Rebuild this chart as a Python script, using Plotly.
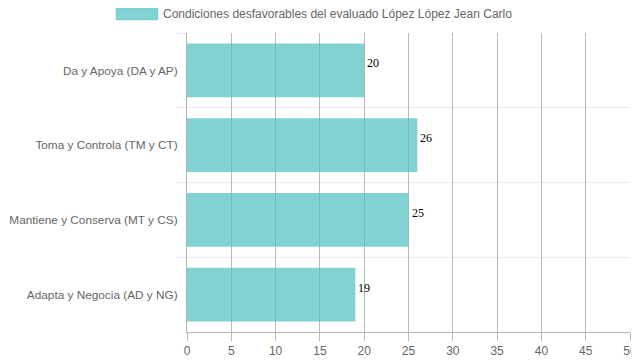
import plotly.graph_objects as go

categories = ["Da y Apoya (DA y AP)", "Toma y Controla (TM y CT)",
              "Mantiene y Conserva (MT y CS)", "Adapta y Negocia (AD y NG)"]
values = [20, 26, 25, 19]
series_name = "Condiciones desfavorables del evaluado López López Jean Carlo"
x_ticks = [0, 5, 10, 15, 20, 25, 30, 35, 40, 45, 50]

pos = list(range(len(categories)))
bounds = [p - 0.5 for p in pos]

fig = go.Figure()
fig.add_trace(go.Bar(
    x=values, y=pos, orientation="h", name=series_name,
    marker=dict(color="rgba(75,192,192,0.7)", line=dict(width=0)),
    width=0.72, showlegend=False, hoverinfo="x+y",
))

for v, p in zip(values, pos):
    fig.add_annotation(x=v, y=p, text=str(v), showarrow=False,
                       xanchor="left", yanchor="middle", xshift=1, yshift=7,
                       font=dict(family="Liberation Serif, Times New Roman, serif", size=12, color="#000"))

# legend swatch + text (paper coords)
fig.add_shape(type="rect", xref="paper", yref="paper",
              x0=(116 - 187) / 443, x1=(158 - 187) / 443,
              y0=(332 - 20) / 299, y1=(332 - 8) / 299,
              fillcolor="rgba(75,192,192,0.7)", line=dict(color="rgba(75,192,192,0.35)", width=1))
fig.add_annotation(xref="paper", yref="paper", x=(161 - 187) / 443, y=(332 - 14) / 299,
                   text=series_name, showarrow=False, xanchor="left", yanchor="middle",
                   font=dict(family="Liberation Sans, Arial, sans-serif", size=12, color="#666"))

fig.update_layout(
    width=631, height=352,
    margin=dict(l=179, r=9, t=25, b=28),
    paper_bgcolor="white", plot_bgcolor="white",
    font=dict(family="Liberation Sans, Arial, sans-serif", size=12, color="#666"),
    bargap=0.28,
)
fig.update_xaxes(
    range=[0, 50], tickvals=x_ticks, showgrid=True, gridcolor="rgba(0,0,0,0.28)", gridwidth=1,
    ticks="outside", ticklen=8, tickcolor="rgba(0,0,0,0.28)",
    showline=True, linecolor="rgba(0,0,0,0.3)", linewidth=1, zeroline=False,
    tickfont=dict(size=12, color="#666"), fixedrange=True, automargin=False,
    ticklabeloverflow="allow",
)
fig.update_yaxes(
    range=[3.5, -0.5], tickvals=pos, ticktext=categories, showgrid=False,
    ticks="", ticklabelstandoff=6, ticklabeloverflow="allow",
    minor=dict(tickvals=bounds, showgrid=True, gridcolor="rgba(0,0,0,0.08)", gridwidth=1,
               ticks="outside", ticklen=10, tickcolor="rgba(0,0,0,0.08)"),
    showline=True, linecolor="rgba(0,0,0,0.3)", linewidth=1, zeroline=False,
    tickfont=dict(size=11.8, color="#666"), fixedrange=True, automargin=False,
)

fig.write_html("out.html")
